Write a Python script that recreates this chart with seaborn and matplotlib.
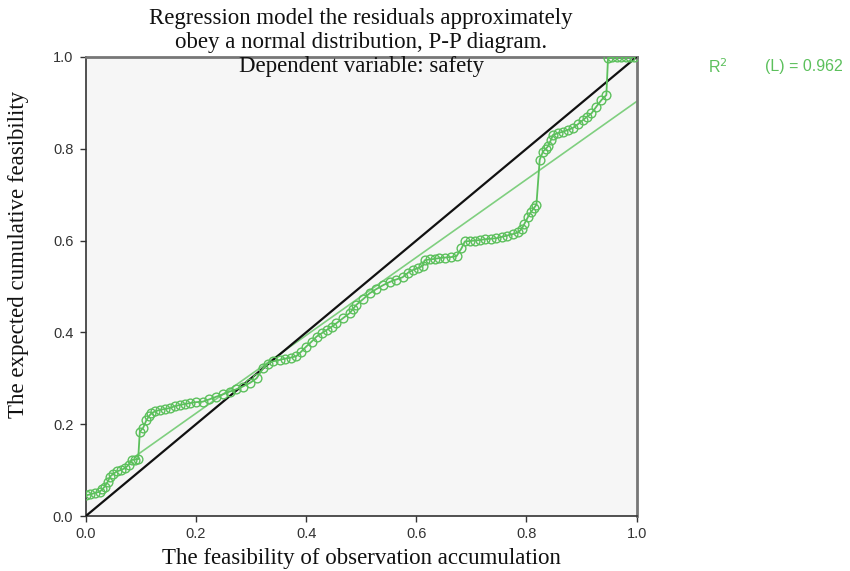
import numpy as np
import pandas as pd
import matplotlib
matplotlib.use("Agg")
import matplotlib.pyplot as plt
import seaborn as sns

# ---- data ----
obs_cum = [0.000, 0.008, 0.016, 0.025, 0.030, 0.034, 0.040, 0.044, 0.050, 0.056,
           0.063, 0.071, 0.078, 0.083, 0.090, 0.095, 0.098, 0.104, 0.110, 0.115,
           0.119, 0.126, 0.134, 0.143, 0.152, 0.161, 0.171, 0.180, 0.189, 0.200,
           0.212, 0.224, 0.237, 0.249, 0.261, 0.273, 0.285, 0.298, 0.310, 0.322,
           0.330, 0.340, 0.352, 0.362, 0.372, 0.382, 0.391, 0.400, 0.410, 0.419,
           0.428, 0.437, 0.446, 0.455, 0.467, 0.479, 0.485, 0.491, 0.503, 0.515,
           0.527, 0.540, 0.552, 0.563, 0.575, 0.585, 0.594, 0.603, 0.612, 0.615,
           0.624, 0.633, 0.642, 0.652, 0.663, 0.673, 0.682, 0.688, 0.697, 0.706,
           0.715, 0.725, 0.735, 0.745, 0.755, 0.765, 0.775, 0.785, 0.791, 0.796,
           0.803, 0.808, 0.813, 0.818, 0.824, 0.830, 0.835, 0.839, 0.844, 0.848,
           0.857, 0.866, 0.875, 0.884, 0.893, 0.903, 0.910, 0.918, 0.927, 0.936,
           0.945, 0.948, 0.956, 0.964, 0.972, 0.980, 0.988, 0.996]
exp_cum = [0.045, 0.047, 0.050, 0.053, 0.058, 0.064, 0.075, 0.086, 0.092, 0.097,
           0.100, 0.104, 0.112, 0.122, 0.123, 0.124, 0.184, 0.192, 0.209, 0.218,
           0.224, 0.228, 0.231, 0.233, 0.235, 0.239, 0.242, 0.244, 0.246, 0.248,
           0.249, 0.254, 0.260, 0.265, 0.271, 0.276, 0.282, 0.290, 0.300, 0.322,
           0.332, 0.337, 0.340, 0.343, 0.345, 0.348, 0.358, 0.369, 0.380, 0.391,
           0.398, 0.405, 0.412, 0.420, 0.431, 0.442, 0.451, 0.460, 0.472, 0.485,
           0.494, 0.503, 0.510, 0.515, 0.520, 0.530, 0.536, 0.540, 0.545, 0.557,
           0.559, 0.560, 0.562, 0.563, 0.564, 0.566, 0.583, 0.598, 0.599, 0.600,
           0.601, 0.603, 0.604, 0.605, 0.608, 0.611, 0.614, 0.618, 0.625, 0.636,
           0.652, 0.662, 0.670, 0.678, 0.776, 0.794, 0.800, 0.805, 0.818, 0.830,
           0.834, 0.837, 0.841, 0.845, 0.853, 0.863, 0.870, 0.877, 0.892, 0.906,
           0.917, 0.997, 1.000, 1.000, 1.000, 1.000, 1.000, 1.000]

fit_x = [0.093, 1.0]
fit_intercept = 0.054
fit_slope = 0.849
diag = [0.0, 1.0]
ticks = [0.0, 0.2, 0.4, 0.6, 0.8, 1.0]
r2_value = 0.962

title_lines = ["Regression model the residuals approximately",
               "obey a normal distribution, P-P diagram.",
               "Dependent variable: safety"]
xlabel = "The feasibility of observation accumulation"
ylabel = "The expected cumulative feasibility"

# ---- figure ----
sns.set_theme(style="white")
plt.rcParams['font.family'] = ['Liberation Sans', 'DejaVu Sans']

fig = plt.figure(figsize=(8.5, 5.71), dpi=100)
fig.patch.set_facecolor("white")
ax = fig.add_axes([0.101, 0.0963, 0.648, 0.804])
ax.set_facecolor("#f6f6f6")

green = "#5cc05c"
df = pd.DataFrame({"x": obs_cum, "y": exp_cum})
df_fit = pd.DataFrame({"x": fit_x, "y": [fit_intercept + fit_slope * v for v in fit_x]})
df_diag = pd.DataFrame({"x": diag, "y": diag})

sns.lineplot(data=df_fit, x="x", y="y", ax=ax, color="#7fcf7f", lw=1.2, zorder=2)
sns.lineplot(data=df_diag, x="x", y="y", ax=ax, color="#111111", lw=1.6, zorder=3)
sns.lineplot(data=df, x="x", y="y", ax=ax, color=green, lw=1.3, marker="o",
             markersize=6.3, markerfacecolor="none", markeredgecolor=green,
             markeredgewidth=1.0, estimator=None, sort=False, zorder=4)

ax.set_xlim(0, 1)
ax.set_ylim(0, 1)
ax.set_xticks(ticks)
ax.set_yticks(ticks)
ax.set_xticklabels([f"{t:.1f}" for t in ticks])
ax.set_yticklabels([f"{t:.1f}" for t in ticks])
ax.tick_params(axis="both", direction="out", length=4, width=1, color="#333333",
               labelsize=10.5, labelcolor="#333333", pad=4)
ax.tick_params(axis="y", pad=5)
ax.tick_params(axis="both", which="both", bottom=True, left=True)

for side in ["left", "bottom"]:
    ax.spines[side].set_color("#333333")
    ax.spines[side].set_linewidth(1.2)
for side in ["top", "right"]:
    ax.spines[side].set_color("#777777")
    ax.spines[side].set_linewidth(2.0)

serif = ['Liberation Serif', 'DejaVu Serif']
ax.set_xlabel(xlabel, family=serif, fontsize=16.5, color="#111111", labelpad=5)
ax.set_ylabel(ylabel, family=serif, fontsize=16.5, color="#111111")
ax.yaxis.set_label_coords(-0.103, 0.569)

ys = [0.967, 0.926, 0.884]
for line, yy in zip(title_lines, ys):
    fig.text(0.425, yy, line, family=serif, fontsize=16.5, ha="center", va="center",
             color="#111111")

fig.text(0.833, 0.883, "R$^2$", fontsize=11.5, color=green, ha="left", va="center")
fig.text(0.9, 0.883, f"(L) = {r2_value}", fontsize=11.5, color=green, ha="left", va="center")

fig.savefig("out.png", dpi=100)
